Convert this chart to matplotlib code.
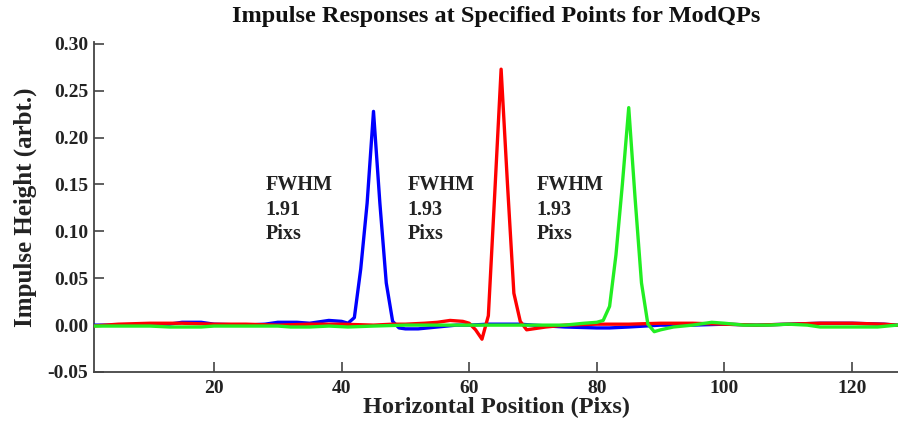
import matplotlib
matplotlib.use("Agg")
import matplotlib.pyplot as plt

blue_x = [1, 5, 10, 13, 15, 18, 20, 25, 28, 30, 33, 35, 37, 38, 40, 41, 42, 43, 44, 45, 46, 47, 48, 49, 50, 52,
          55, 58, 60, 63, 65, 68, 70, 75, 80, 82, 85, 90, 95, 100, 105, 110, 115, 120, 125, 127]
blue_y = [0.000, 0.000, 0.001, 0.001, 0.003, 0.003, 0.001, 0.000, 0.001, 0.003, 0.003, 0.002, 0.004, 0.005,
          0.004, 0.002, 0.008, 0.060, 0.130, 0.228, 0.130, 0.045, 0.004, -0.003, -0.004, -0.004, -0.002, 0.000,
          0.000, 0.001, 0.001, 0.001, 0.000, -0.002, -0.003, -0.003, -0.002, 0.000, 0.000, 0.001, 0.000, 0.001,
          0.002, 0.002, 0.001, 0.000]

red_x = [1, 5, 10, 15, 20, 25, 30, 35, 40, 45, 48, 50, 53, 55, 57, 59, 60, 61, 62, 63, 64, 65, 66, 67, 68, 69,
         70, 72, 75, 80, 85, 90, 95, 100, 105, 110, 115, 120, 125, 127]
red_y = [-0.001, 0.001, 0.002, 0.002, 0.001, 0.001, 0.000, 0.001, 0.001, 0.000, 0.001, 0.001, 0.002, 0.003,
         0.005, 0.004, 0.002, -0.005, -0.015, 0.010, 0.140, 0.273, 0.150, 0.034, 0.004, -0.005, -0.004, -0.002,
         0.000, 0.001, 0.001, 0.002, 0.002, 0.001, 0.000, 0.001, 0.002, 0.002, 0.001, 0.000]

green_x = [1, 5, 10, 13, 18, 20, 25, 30, 32, 35, 38, 41, 45, 50, 55, 60, 65, 70, 75, 78, 80, 81, 82, 83, 84, 85,
           86, 87, 88, 89, 90, 92, 95, 98, 100, 103, 107, 110, 113, 115, 120, 124, 127]
green_y = [-0.001, -0.001, -0.001, -0.002, -0.002, -0.001, -0.001, -0.001, -0.002, -0.002, -0.001, -0.002,
           -0.001, 0.000, 0.000, 0.000, 0.000, 0.000, 0.000, 0.002, 0.003, 0.005, 0.020, 0.075, 0.150, 0.232,
           0.135, 0.045, 0.001, -0.007, -0.005, -0.002, 0.000, 0.003, 0.002, 0.000, 0.000, 0.001, 0.000, -0.002,
           -0.002, -0.002, 0.000]

labels_x = [28.1, 50.3, 70.5]
labels_text = ["FWHM\n1.91\nPixs", "FWHM\n1.93\nPixs", "FWHM\n1.93\nPixs"]

xticks = [20, 40, 60, 80, 100, 120]
yticks = [-0.05, 0.00, 0.05, 0.10, 0.15, 0.20, 0.25, 0.30]

serif = ["Liberation Serif", "DejaVu Serif"]

fig = plt.figure(figsize=(8.98, 4.22), dpi=100)
ax = fig.add_axes([0.1047, 0.1185, 0.8953, 0.782])

ax.plot(blue_x, blue_y, color="#0000ff", lw=2.4, zorder=3)
ax.plot(red_x, red_y, color="#ff0000", lw=2.4, zorder=3)
ax.plot(green_x, green_y, color="#22ee22", lw=2.4, zorder=3)

for lx, t in zip(labels_x, labels_text):
    ax.text(lx, 0.160, t, family=serif, fontweight="bold", fontsize=14.5,
            va="top", ha="left", linespacing=1.3, color="#222222")

ax.set_xlim(1.2, 127.2)
ax.set_ylim(-0.05, 0.302)
ax.set_xticks(xticks)
ax.set_yticks(yticks)
ax.set_yticklabels([f"{v:.2f}" for v in yticks])

for s in ["top", "right"]:
    ax.spines[s].set_visible(False)
for s in ["left", "bottom"]:
    ax.spines[s].set_color("#444444")
    ax.spines[s].set_linewidth(1.3)

ax.tick_params(direction="in", length=7, width=1.2, color="#444444", labelsize=14, pad=4)
ax.tick_params(axis="x", pad=6)
for lab in ax.get_yticklabels():
    lab.set_family(serif)
    lab.set_fontweight("bold")
    lab.set_color("#222222")
for lab in ax.get_xticklabels():
    lab.set_family(serif)
    lab.set_fontweight("semibold")
    lab.set_color("#222222")

ax.set_xlabel("Horizontal Position (Pixs)", family=serif, fontweight="bold", fontsize=17.5, labelpad=0,
              color="#222222")
ax.set_ylabel("Impulse Height (arbt.)", family=serif, fontweight="bold", fontsize=18, labelpad=8,
              color="#222222")
fig.text(0.552, 0.962, "Impulse Responses at Specified Points for ModQPs", family=serif,
         fontweight="bold", fontsize=17.5, ha="center", va="center", color="#111111")

fig.savefig("out.png", dpi=100)
